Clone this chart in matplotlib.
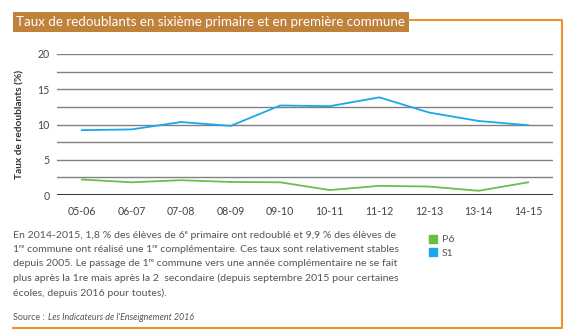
import matplotlib.pyplot as plt
from matplotlib.lines import Line2D
from matplotlib.patches import Patch, Rectangle

plt.rcParams['font.family'] = ['Lato', 'DejaVu Sans']

annees = ["05-06", "06-07", "07-08", "08-09", "09-10",
          "10-11", "11-12", "12-13", "13-14", "14-15"]
p6 = [2.2, 1.8, 2.1, 1.85, 1.8, 0.7, 1.3, 1.2, 0.6, 1.8]
s1 = [9.2, 9.3, 10.35, 9.8, 12.7, 12.6, 13.85, 11.7, 10.5, 9.9]
y_ticks = [0, 5, 10, 15, 20]

vert = "#6cbd45"
bleu = "#1aa7ec"
orange = "#f0922c"
brun = "#c0813b"
gris_txt = "#555555"

W, H = 570, 335
fig = plt.figure(figsize=(W / 100, H / 100), dpi=100)


def fx(x):
    return x / W


def fy(y):
    return 1 - y / H


def ajuster(t, largeur):
    # règle la taille de police pour que le texte occupe la largeur voulue (px)
    r = fig.canvas.get_renderer()
    w = t.get_window_extent(r).width
    t.set_fontsize(t.get_fontsize() * largeur / w)


ax = fig.add_axes([fx(57), fy(195), fx(553) - fx(57), fy(54) - fy(195)])
x = range(len(annees))
ax.plot(x, s1, color=bleu, lw=1.3, label="S1")
ax.plot(x, p6, color=vert, lw=1.3, label="P6")

ax.set_xlim(-0.5, 9.5)
ax.set_ylim(0, 20)
for v in [2.5, 5, 7.5, 10, 12.5, 15, 17.5, 20]:
    ax.axhline(v, color="#808080", lw=1, zorder=0)
ax.axhline(0, color="#222222", lw=2, zorder=3)
for s in ax.spines.values():
    s.set_visible(False)
ax.set_xticks(list(x))
ax.set_xticklabels(annees)
ax.set_yticks(y_ticks)
ax.tick_params(length=0, labelsize=7.6, colors="#444444")
ax.tick_params(axis="x", pad=8)
ax.tick_params(axis="y", pad=5.5)
ax.set_ylabel("Taux de redoublants (%)", fontsize=7.3, fontweight="bold",
              color="#333333", labelpad=9)

# cadre et titre
fig.add_artist(Rectangle((fx(13), fy(32)), fx(409) - fx(13), fy(12) - fy(32),
                         transform=fig.transFigure, color=brun, lw=0))
titre = fig.text(fx(16), fy(22), "Taux de redoublants en sixième primaire et en première commune",
                 color="white", fontsize=10, va="center", ha="left")
ajuster(titre, 389)
fig.add_artist(Line2D([fx(409), fx(562), fx(562), fx(13)],
                      [fy(20), fy(20), fy(328), fy(328)],
                      transform=fig.transFigure, color=orange, lw=1.5))

lignes = ["En 2014-2015, 1,8 % des élèves de 6ᵉ primaire ont redoublé et 9,9 % des élèves de",
          "1ʳᵉ commune ont réalisé une 1ʳᵉ complémentaire. Ces taux sont relativement stables",
          "depuis 2005. Le passage de 1ʳᵉ commune vers une année complémentaire ne se fait",
          "plus après la 1re mais après la 2  secondaire (depuis septembre 2015 pour certaines",
          "écoles, depuis 2016 pour toutes)."]
t0 = fig.text(fx(13), fy(235), lignes[0], fontsize=8, color=gris_txt, va="center")
ajuster(t0, 382)
for i, l in enumerate(lignes[1:], start=1):
    fig.text(fx(13), fy(235 + 14.5 * i), l, fontsize=t0.get_fontsize(),
             color=gris_txt, va="center")

src = fig.text(fx(13), fy(317), "Source :", fontsize=6.4, color=gris_txt, va="center")
x_fin = src.get_window_extent(fig.canvas.get_renderer()).x1
fig.text((x_fin + 3) / W, fy(317), "Les Indicateurs de l'Enseignement 2016", fontsize=6.4,
         color=gris_txt, va="center", style="italic")

handles = [Patch(color=vert, label="P6"), Patch(color=bleu, label="S1")]
leg = fig.legend(handles=handles, loc="upper left", bbox_to_anchor=(fx(429), fy(235)),
                 frameon=False, fontsize=t0.get_fontsize(), handlelength=0.75,
                 handleheight=0.75, handletextpad=0.5, labelspacing=0.35, borderaxespad=0,
                 borderpad=0)
for t in leg.get_texts():
    t.set_color(gris_txt)

fig.savefig("out.png", dpi=100)
